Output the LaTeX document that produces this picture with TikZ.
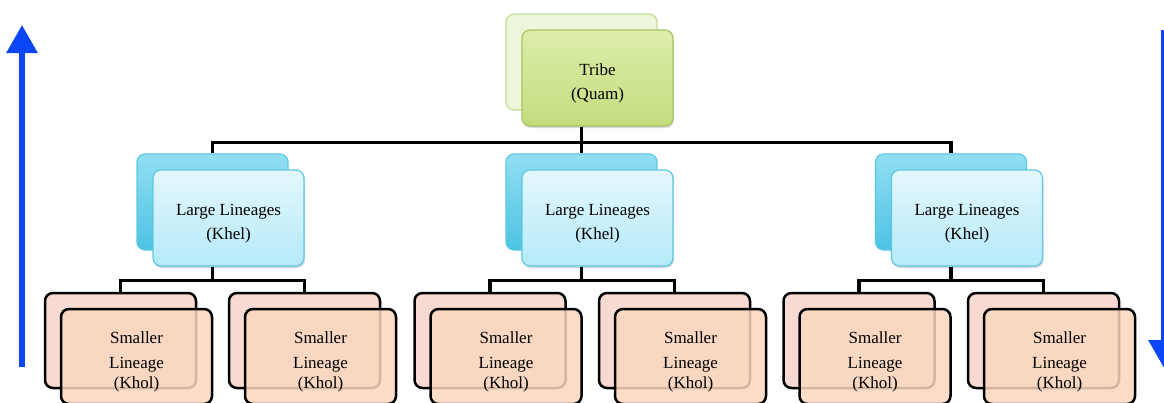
\documentclass[tikz,border=0pt]{standalone}
\usepackage{fontspec}
\setmainfont{Liberation Serif}
\usetikzlibrary{positioning, arrows.meta, shadows}
\usepackage{xcolor}

\definecolor{tribeTop}{HTML}{DDEEAB}
\definecolor{tribeBot}{HTML}{C3DC7E}
\definecolor{tribeLine}{HTML}{A8C45E}
\definecolor{tribePale}{HTML}{EDF6DA}
\definecolor{tribePaleLine}{HTML}{C3DB90}
\definecolor{khelTop}{HTML}{E4F7FC}
\definecolor{khelBot}{HTML}{B4EAF8}
\definecolor{khelLine}{HTML}{5CC8E3}
\definecolor{khelDeepTop}{HTML}{92DFF3}
\definecolor{khelDeepBot}{HTML}{4DC2E2}
\definecolor{kholFront}{HTML}{FAD7BD}
\definecolor{kholBack}{HTML}{F8DAD2}
\definecolor{arrowBlue}{HTML}{0A46F5}

\newcommand{\lowerstrut}{\rule{0pt}{22pt}}

\tikzset{
  box/.style={rounded corners=8pt, minimum width=151pt, minimum height=96pt,
    inner sep=2pt, align=center},
  tribeback/.style={box, draw=tribePaleLine, fill=tribePale, line width=1.2pt},
  tribefront/.style={box, draw=tribeLine, top color=tribeTop, bottom color=tribeBot,
    line width=1.2pt, font=\fontsize{17}{24}\selectfont,
    drop shadow={opacity=0.3, shadow xshift=1pt, shadow yshift=-2pt}},
  khelback/.style={box, draw=khelLine, top color=khelDeepTop, bottom color=khelDeepBot,
    line width=1.2pt},
  khelfront/.style={box, draw=khelLine, top color=khelTop, bottom color=khelBot,
    line width=1.2pt, font=\fontsize{17}{24}\selectfont,
    drop shadow={opacity=0.3, shadow xshift=1pt, shadow yshift=-2pt}},
  kholback/.style={box, minimum height=95pt, draw=black, fill=kholBack, line width=2.5pt},
  kholfront/.style={box, minimum height=95pt, draw=black, fill=kholFront,
    fill opacity=0.85, text opacity=1, line width=2.5pt,
    font=\fontsize{17}{20}\selectfont},
  conn/.style={line width=3.5pt},
  bluearrow/.style={line width=6pt, color=arrowBlue, -{Triangle[width=30pt, length=28pt]}}
}

\begin{document}
\begin{tikzpicture}[x=1pt, y=-1pt]
  \useasboundingbox (0,0) rectangle (1164,402);

  % tribe
  \node[tribeback] (tribeB) at (581.5,62) {};
  \node[tribefront] (tribeF) at ([shift={(16,16)}]tribeB.center) {\lowerstrut Tribe\\(Quam)};

  % large lineages
  \foreach \x [count=\i] in {212.5, 581.5, 951} {
    \node[khelback] (khelB\i) at (\x,202) {};
    \node[khelfront] (khelF\i) at ([shift={(16,16)}]khelB\i.center) {\lowerstrut Large Lineages\\(Khel)};
  }

  % smaller lineages
  \foreach \x [count=\i] in {120.5, 304.5, 490, 674.5, 859, 1043.5} {
    \node[kholback] (kholB\i) at (\x,340.5) {};
    \node[kholfront] (kholF\i) at ([shift={(16,16)}]kholB\i.center) {\lowerstrut Smaller\\[5pt]Lineage\\(Khol)};
  }

  % connectors
  \foreach \i in {1,2,3}
    \draw[conn] (tribeB.south |- tribeF.south) -- ++(0,16) -| (khelB\i.north);
  \foreach \i/\a/\b in {1/1/2, 2/3/4, 3/5/6} {
    \draw[conn] (khelB\i.south |- khelF\i.south) -- ++(0,14) -| (kholB\a.north);
    \draw[conn] (khelB\i.south |- khelF\i.south) -- ++(0,14) -| (kholB\b.north);
  }

  % side arrows
  \coordinate (upFoot) at (22,367);
  \coordinate (upTip) at (22,25);
  \coordinate (downFoot) at (1164,30);
  \coordinate (downTip) at (1164,368);
  \draw[bluearrow] (upFoot) -- (upTip);
  \draw[bluearrow] (downFoot) -- (downTip);
\end{tikzpicture}
\end{document}
